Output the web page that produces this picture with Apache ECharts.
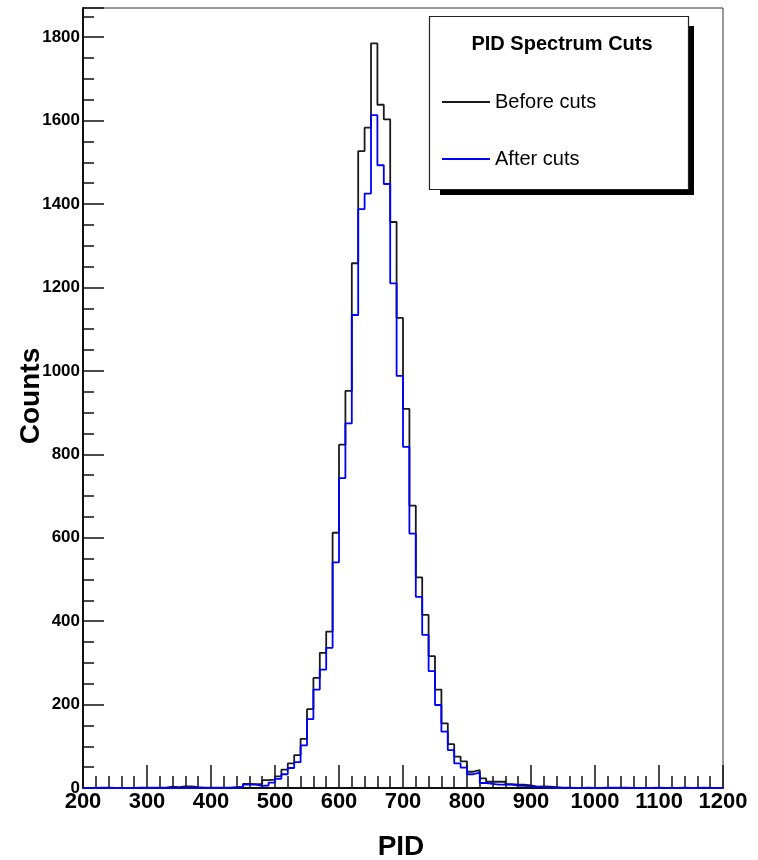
<!DOCTYPE html>
<html><head><meta charset="utf-8">
<script src="https://cdn.jsdelivr.net/npm/echarts@6/dist/echarts.min.js"></script>
<style>html,body{margin:0;padding:0;background:#fff}#c{width:758px;height:860px}</style>
</head><body><div id="c"></div>
<script>
const binEdges = [200,210,220,230,240,250,260,270,280,290,
  300,310,320,330,340,350,360,370,380,390,
  400,410,420,430,440,450,460,470,480,490,
  500,510,520,530,540,550,560,570,580,590,
  600,610,620,630,640,650,660,670,680,690,
  700,710,720,730,740,750,760,770,780,790,
  800,810,820,830,840,850,860,870,880,890,
  900,910,920,930,940,950,960,970,980,990,
  1000,1010,1020,1030,1040,1050,1060,1070,1080,1090,
  1100,1110,1120,1130,1140,1150,1160,1170,1180,1190,1200];
const beforeCuts = [0,0,1,1,0,0,0,0,1,1,
  1,1,1,3,2,4,4,2,1,1,
  1,1,1,2,3,10,9,9,19,20,
  28,44,59,79,118,189,264,324,375,612,
  823,952,1258,1527,1583,1785,1638,1603,1357,1127,
  909,677,505,415,316,236,155,105,75,64,
  39,43,23,15,15,15,9,8,8,6,
  3,4,3,2,1,1,0,0,1,0,
  0,1,1,1,1,0,0,0,0,1,
  0,0,0,1,0,0,1,0,0,0];
const afterCuts = [0,0,0,0,0,0,0,0,0,0,
  0,0,0,0,0,0,0,0,0,0,
  0,0,0,1,2,8,8,5,6,13,
  22,33,48,62,102,165,236,284,336,541,
  743,874,1134,1388,1425,1613,1493,1448,1210,988,
  818,610,458,367,280,199,135,91,59,49,
  33,37,12,10,8,8,8,6,5,4,
  2,1,1,0,0,0,0,0,0,0,
  0,0,0,0,0,0,0,0,0,0,
  0,0,0,0,0,0,0,0,0,0];
const seriesNames = ['Before cuts', 'After cuts'];
const legendTitle = 'PID Spectrum Cuts';
const xTitle = 'PID';
const yTitle = 'Counts';

function stepData(vals) {
  const d = vals.map((v, i) => [binEdges[i], v]);
  d.push([binEdges[vals.length], vals[vals.length - 1]]);
  return d;
}

const FONT = 'Liberation Sans, Arial, Helvetica, sans-serif';
const gridRect = { left: 83, right: 35, top: 8, bottom: 72 };
const chart = echarts.init(document.getElementById('c'), null, { renderer: 'canvas' });
chart.setOption({
  animation: false,
  backgroundColor: '#fff',
  grid: [
    Object.assign({ show: true, borderColor: '#333', borderWidth: 1, backgroundColor: 'transparent', containLabel: false, outerBoundsMode: 'none' }, gridRect),
    Object.assign({ show: false, containLabel: false, outerBoundsMode: 'none' }, gridRect)
  ],
  xAxis: [
    {
      type: 'value', gridIndex: 0, min: 200, max: 1200, interval: 100,
      axisLine: { show: true, lineStyle: { color: '#111', width: 2 } },
      axisTick: { show: true, inside: true, length: 23, lineStyle: { color: '#111', width: 1.5 } },
      minorTick: { show: true, splitNumber: 5, length: 12, lineStyle: { color: '#111', width: 1.5 } },
      splitLine: { show: false },
      axisLabel: { show: true, margin: 3, color: '#000', fontFamily: FONT, fontWeight: 'bold', fontSize: 22,
        formatter: v => String(v) }
    },
    { type: 'value', gridIndex: 1, min: 200, max: 1200, show: false }
  ],
  yAxis: [
    {
      type: 'value', gridIndex: 0, min: 0, max: 1870, interval: 50,
      axisLine: { show: false },
      axisTick: { show: true, inside: true, length: 11, lineStyle: { color: '#111', width: 1.5 } },
      splitLine: { show: false },
      axisLabel: { show: false }
    },
    {
      type: 'value', gridIndex: 1, min: 0, max: 1870, interval: 200,
      axisLine: { show: true, lineStyle: { color: '#111', width: 2 } },
      axisTick: { show: true, inside: true, length: 21, lineStyle: { color: '#111', width: 1.5 } },
      splitLine: { show: false },
      axisLabel: { show: true, margin: 3, color: '#000', fontFamily: FONT, fontWeight: 'bold', fontSize: 17,
        formatter: v => (v % 200 === 0 ? String(v) : '') }
    }
  ],
  legend: {
    show: true, orient: 'vertical', left: 437, top: 87, itemWidth: 48, itemHeight: 2, itemGap: 37,
    icon: 'rect',
    textStyle: { color: '#000', fontFamily: FONT, fontSize: 20 },
    data: seriesNames, selectedMode: false, z: 20
  },
  series: [
    { name: seriesNames[0], type: 'line', xAxisIndex: 0, yAxisIndex: 0, step: 'end', symbol: 'none', showSymbol: false,
      data: stepData(beforeCuts), lineStyle: { color: '#1a1a1a', width: 1.8 }, itemStyle: { color: '#1a1a1a' }, z: 3 },
    { name: seriesNames[1], type: 'line', xAxisIndex: 0, yAxisIndex: 0, step: 'end', symbol: 'none', showSymbol: false,
      data: stepData(afterCuts), lineStyle: { color: '#0000ff', width: 1.8 }, itemStyle: { color: '#0000ff' }, z: 4 }
  ],
  graphic: [
    { type: 'rect', z: 10, shape: { x: 440, y: 26, width: 254, height: 169 }, style: { fill: '#000' } },
    { type: 'rect', z: 11, shape: { x: 429.5, y: 16.5, width: 259, height: 173 }, style: { fill: '#fff', stroke: '#222', lineWidth: 1.2 } },
    { type: 'text', z: 12, x: 562, y: 44, style: { text: legendTitle, fill: '#000', font: 'bold 20px ' + FONT, textAlign: 'center', textVerticalAlign: 'middle' } },
    { type: 'text', z: 12, x: 401, y: 847, style: { text: xTitle, fill: '#000', font: 'bold 28px ' + FONT, textAlign: 'center', textVerticalAlign: 'middle' } },
    { type: 'text', z: 12, x: 31, y: 396, rotation: Math.PI / 2, style: { text: yTitle, fill: '#000', font: 'bold 28px ' + FONT, textAlign: 'center', textVerticalAlign: 'middle' } }
  ]
});
</script>
</body></html>
